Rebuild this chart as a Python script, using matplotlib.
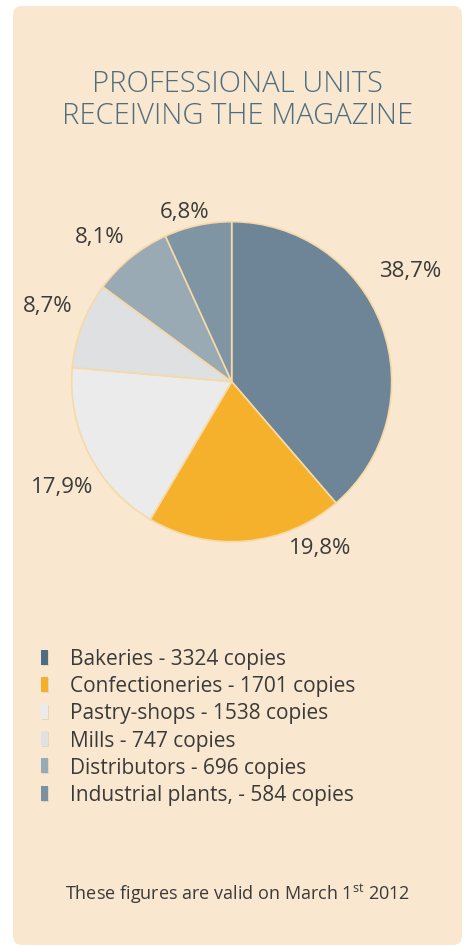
import matplotlib.pyplot as plt
from matplotlib.patches import FancyBboxPatch, Rectangle
import numpy as np

# --- data ---
categories = ['Bakeries', 'Confectioneries', 'Pastry-shops', 'Mills',
              'Distributors', 'Industrial plants,']
copies = [3324, 1701, 1538, 747, 696, 584]
pct_labels = ['38,7%', '19,8%', '17,9%', '8,7%', '8,1%', '6,8%']

# --- style ---
slice_colors = ['#6d8597', '#f5b12c', '#ebebeb', '#dee0e1', '#9aaab5', '#8095a4']
legend_colors = ['#4f6d80', '#f5b02b', '#ebebeb', '#dfe1e3', '#98aab8', '#7b90a0']
panel_color = '#f9e8cf'
edge_color = '#f6d9a8'
title_color = '#4e6e80'
text_color = '#3a3a3a'

# label placement (angle shift from slice middle, radius in pie units)
label_shift = [11.4, 23.0, 4.8, -1.5, 3.4, 3.3]
label_dist = [1.31, 1.18, 1.25, 1.24, 1.22, 1.10]

plt.rcParams['font.family'] = ['Open Sans', 'DejaVu Sans']
plt.rcParams['mathtext.fontset'] = 'custom'
plt.rcParams['mathtext.rm'] = 'Open Sans'

W, H = 467, 946
fig = plt.figure(figsize=(W / 100, H / 100), dpi=100)
fig.patch.set_facecolor('white')

# background axes in pixel coordinates
bg = fig.add_axes([0, 0, 1, 1])
bg.set_xlim(0, W)
bg.set_ylim(H, 0)
bg.axis('off')

panel = FancyBboxPatch((13, 6), 449, 939, boxstyle='round,pad=0,rounding_size=9',
                       facecolor=panel_color, edgecolor='none')
bg.add_patch(panel)

bg.text(237.5, 84, 'PROFESSIONAL UNITS', ha='center', va='center',
        fontsize=21, color=title_color, fontweight='light')
bg.text(237.5, 116, 'RECEIVING THE MAGAZINE', ha='center', va='center',
        fontsize=21, color=title_color, fontweight='light')

# legend
for i, (cat, n) in enumerate(zip(categories, copies)):
    y = 657.5 + i * 27.2
    bg.add_patch(Rectangle((42, y - 7), 7, 15, facecolor='#d8c9b2',
                           edgecolor='none', alpha=0.6))
    bg.add_patch(Rectangle((41, y - 8), 7, 15, facecolor=legend_colors[i],
                           edgecolor='none'))
    bg.text(70, y + 2, f'{cat} - {n} copies', ha='left', va='center',
            fontsize=15, color=text_color)

bg.text(237.5, 894, r'These figures are valid on March 1$^{\mathrm{st}}$ 2012',
        ha='center', va='center', fontsize=13, color=text_color)

# pie
cx, cy, r = 231.7, 381.7, 160
half = 1.5 * r
ax = fig.add_axes([(cx - half) / W, (H - cy - half) / H, 2 * half / W, 2 * half / H])
wedges, _ = ax.pie(copies, colors=slice_colors, startangle=90, counterclock=False,
                   wedgeprops=dict(edgecolor=edge_color, linewidth=1.2))
ax.set_xlim(-1.5, 1.5)
ax.set_ylim(-1.5, 1.5)
ax.axis('off')

for w, lab, sh, d in zip(wedges, pct_labels, label_shift, label_dist):
    mid = np.deg2rad((w.theta1 + w.theta2) / 2 + sh)
    ax.text(d * np.cos(mid), d * np.sin(mid), lab, ha='center', va='center',
            fontsize=16, color=text_color)

fig.savefig('out.png', dpi=100, facecolor='white')
